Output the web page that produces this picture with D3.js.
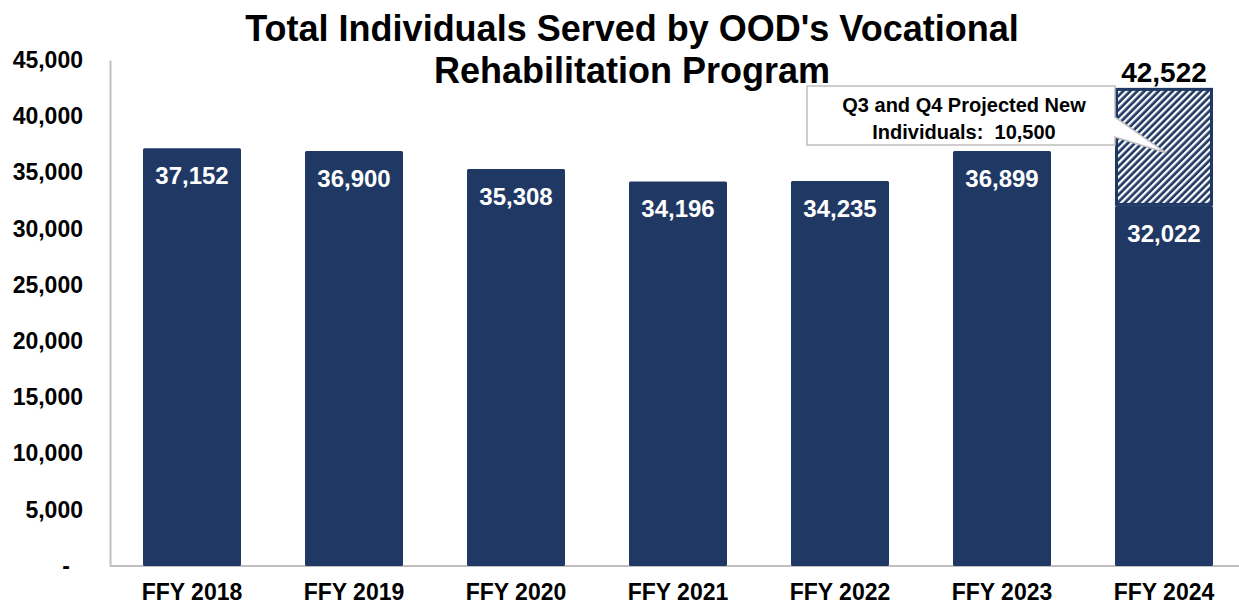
<!DOCTYPE html>
<html>
<head>
<meta charset="utf-8">
<script src="https://cdn.jsdelivr.net/npm/d3@7"></script>
<style>
  body { margin: 0; background: #fff; }
  svg { font-family: "Liberation Sans", Arial, sans-serif; }
</style>
</head>
<body>
<svg id="chart" width="1239" height="605"></svg>
<script>
const categories = ['FFY 2018', 'FFY 2019', 'FFY 2020', 'FFY 2021', 'FFY 2022', 'FFY 2023', 'FFY 2024'];
const served = [37152, 36900, 35308, 34196, 34235, 36899, 32022];
const projected = [0, 0, 0, 0, 0, 0, 10500];
const yTicks = [0, 5000, 10000, 15000, 20000, 25000, 30000, 35000, 40000, 45000];
const titleLines = ["Total Individuals Served by OOD's Vocational", 'Rehabilitation Program'];
const calloutLines = ['Q3 and Q4 Projected New', 'Individuals:  10,500'];

const navy = '#1f3864';
const fmt = d3.format(',');

const svg = d3.select('#chart');

const x = d3.scaleBand()
  .domain(categories)
  .range([111, 1245])
  .paddingInner(0.395)
  .paddingOuter(0.1975);

const y = d3.scaleLinear()
  .domain([0, 45000])
  .range([566, 60]);

// hatch pattern for projected part
const defs = svg.append('defs');
const pat = defs.append('pattern')
  .attr('id', 'hatch')
  .attr('patternUnits', 'userSpaceOnUse')
  .attr('width', 5)
  .attr('height', 5)
  .attr('patternTransform', 'rotate(45)');
pat.append('rect').attr('width', 5).attr('height', 5).attr('fill', navy);
pat.append('rect').attr('x', 0).attr('width', 2.3).attr('height', 5).attr('fill', '#fff');

// title
svg.append('g')
  .selectAll('text')
  .data(titleLines)
  .join('text')
  .attr('x', 632)
  .attr('y', (d, i) => 41 + i * 42)
  .attr('text-anchor', 'middle')
  .attr('font-size', 36)
  .attr('font-weight', 'bold')
  .attr('fill', '#000')
  .text(d => d);

// y axis
const yAxis = svg.append('g')
  .attr('transform', 'translate(110,0)')
  .call(d3.axisLeft(y).tickValues(yTicks).tickSize(0).tickPadding(27)
    .tickFormat(d => d === 0 ? '-' : fmt(d)));
yAxis.select('.domain').attr('stroke', '#bfbfbf').attr('stroke-width', 2);
yAxis.selectAll('text')
  .attr('font-size', 23)
  .attr('font-weight', 'bold')
  .attr('fill', '#000')
  .attr('font-family', '"Liberation Sans", Arial, sans-serif')
  .attr('dx', d => d === 0 ? -13 : 0);

// x axis
const xAxis = svg.append('g')
  .attr('transform', `translate(0,${y(0)})`)
  .call(d3.axisBottom(x).tickSize(0).tickPadding(18));
xAxis.select('.domain').attr('stroke', '#bfbfbf').attr('stroke-width', 2)
  .attr('d', 'M110,0H1239');
xAxis.selectAll('text')
  .attr('font-size', 23)
  .attr('font-weight', 'bold')
  .attr('fill', '#000')
  .attr('font-family', '"Liberation Sans", Arial, sans-serif');

// solid bars
svg.append('g')
  .selectAll('rect')
  .data(categories)
  .join('rect')
  .attr('x', d => x(d))
  .attr('y', (d, i) => y(served[i]))
  .attr('width', x.bandwidth())
  .attr('height', (d, i) => y(0) - y(served[i]))
  .attr('rx', 1.5)
  .attr('fill', navy);

// projected (hatched) part
svg.append('g')
  .selectAll('rect')
  .data(categories.filter((d, i) => projected[i] > 0))
  .join('rect')
  .attr('x', d => x(d) + 1.5)
  .attr('y', d => { const i = categories.indexOf(d); return y(served[i] + projected[i]) + 1.5; })
  .attr('width', x.bandwidth() - 3)
  .attr('height', d => { const i = categories.indexOf(d); return y(served[i]) - y(served[i] + projected[i]) - 3; })
  .attr('fill', 'url(#hatch)')
  .attr('stroke', navy)
  .attr('stroke-width', 3);

// value labels inside bars
svg.append('g')
  .selectAll('text')
  .data(categories)
  .join('text')
  .attr('x', d => x(d) + x.bandwidth() / 2)
  .attr('y', (d, i) => y(served[i]) + 36)
  .attr('text-anchor', 'middle')
  .attr('font-size', 24)
  .attr('font-weight', 'bold')
  .attr('fill', '#fff')
  .text((d, i) => fmt(served[i]));

// total labels above projected bars
svg.append('g')
  .selectAll('text')
  .data(categories.filter((d, i) => projected[i] > 0))
  .join('text')
  .attr('x', d => x(d) + x.bandwidth() / 2)
  .attr('y', d => { const i = categories.indexOf(d); return y(served[i] + projected[i]) - 6; })
  .attr('text-anchor', 'middle')
  .attr('font-size', 28)
  .attr('font-weight', 'bold')
  .attr('fill', '#000')
  .text(d => { const i = categories.indexOf(d); return fmt(served[i] + projected[i]); });

// callout
const last = categories[categories.length - 1];
const li = categories.length - 1;
const px = x(last) + x.bandwidth() / 2 + 2;
const py = y(served[li] + projected[li] * 0.45);
const bx0 = 807, bx1 = 1115, by0 = 86, by1 = 145;
const callout = svg.append('g');
callout.append('path')
  .attr('d', `M${bx0},${by0}H${bx1}V117L${px},${py}L${bx1},137V${by1}H${bx0}Z`)
  .attr('fill', '#fff')
  .attr('stroke', '#bfbfbf')
  .attr('stroke-width', 1.5);
callout.selectAll('text')
  .data(calloutLines)
  .join('text')
  .attr('x', (bx0 + bx1) / 2 + 3)
  .attr('y', (d, i) => 112 + i * 27)
  .attr('text-anchor', 'middle')
  .attr('font-size', 20)
  .attr('font-weight', 'bold')
  .attr('fill', '#000')
  .attr('xml:space', 'preserve')
  .style('white-space', 'pre')
  .text(d => d);
</script>
</body>
</html>
